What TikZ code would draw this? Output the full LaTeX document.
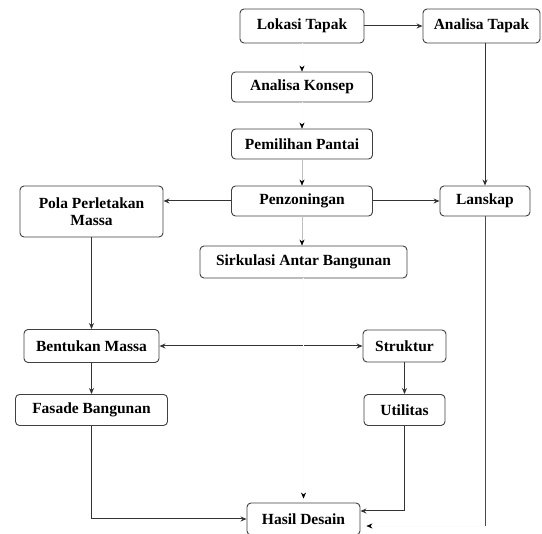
\documentclass[tikz,border=0pt]{standalone}
\usepackage{fontspec}
\setmainfont{Liberation Serif}
\usetikzlibrary{shapes.geometric, arrows.meta}
\tikzstyle{process} = [rectangle, rounded corners=4pt, minimum width=141pt, minimum height=30pt, text centered, draw=black!75, line width=0.9pt, fill=white, inner sep=2pt, font=\fontsize{15.5}{17}\selectfont\bfseries]
\tikzstyle{arrow} = [line width=1pt, draw=black!80, -{Stealth[length=6pt,width=5pt]}]
\tikzstyle{twoway} = [line width=1pt, draw=black!80, {Stealth[length=6pt,width=5pt]}-{Stealth[length=6pt,width=5pt]}]
\tikzstyle{faint} = [line width=0.6pt, draw=black!25, -{Stealth[length=6pt,width=5pt,black]}]
\tikzstyle{ghost} = [line width=0.5pt, draw=black!1, -{Stealth[length=6pt,width=5pt,black]}]
\tikzstyle{line} = [line width=1pt, draw=black!70]

\begin{document}
\begin{tikzpicture}[x=1pt, y=-1pt, node distance=57pt]
\useasboundingbox (0,0) rectangle (542,534);

% Nodes
\node (lokasi) [process, minimum width=124pt, minimum height=34pt] at (302,26) {Lokasi Tapak};
\node (analisatapak) [process, right of=lokasi, xshift=122.5pt, minimum width=117pt, minimum height=34pt] {Analisa Tapak};
\node (konsep) [process, below of=lokasi, yshift=-4pt] {Analisa Konsep};
\node (pemilihan) [process, below of=konsep] {Pemilihan Pantai};
\node (penzon) [process, below of=pemilihan] {Penzoningan};
\node (sirkulasi) [process, below of=penzon, yshift=-4pt, xshift=1.5pt, minimum width=207pt, minimum height=32pt] {Sirkulasi Antar Bangunan};
\node (lanskap) [process, right of=penzon, xshift=126pt, minimum width=90pt] {Lanskap};
\node (pola) [process, left of=penzon, xshift=-153.5pt, yshift=-10.5pt, minimum width=143pt, minimum height=51pt, align=center] {Pola Perletakan\\Massa};
\node (bentukan) [process, below of=pola, yshift=-77.5pt, minimum width=135pt, minimum height=33pt] {Bentukan Massa};
\node (struktur) [process, right of=bentukan, xshift=256pt, minimum width=83pt, minimum height=32pt] {Struktur};
\node (fasade) [process, below of=bentukan, yshift=-7pt, minimum width=152pt, minimum height=31pt] {Fasade Bangunan};
\node (utilitas) [process, below of=struktur, yshift=-7pt, minimum width=81pt, minimum height=31pt] {Utilitas};
\node (hasil) [process, below of=sirkulasi, yshift=-200pt, minimum width=113pt, minimum height=32pt] {Hasil Desain};
\coordinate (lanend) at ([yshift=-7pt]hasil.east -| lanskap);

% Arrows
\draw [arrow] (lokasi) -- (analisatapak);
\draw [ghost] (lokasi) -- (konsep);
\draw [ghost] (konsep) -- (pemilihan);
\draw [faint] (pemilihan) -- (penzon);
\draw [faint] (penzon) -- (penzon |- sirkulasi.north);
\draw [arrow] (penzon) -- (penzon -| pola.east);
\draw [arrow] (penzon) -- (lanskap);
\draw [arrow] (analisatapak.south -| lanskap) -- (lanskap);
\draw [arrow] (pola) -- (bentukan);
\draw [twoway] (bentukan) -- (struktur);
\draw [arrow] (bentukan) -- (fasade);
\draw [arrow] (struktur) -- (utilitas);
\draw [arrow] (fasade) |- (hasil);
\draw [arrow] (utilitas) |- ([yshift=8pt]hasil.east);
\draw [line] (lanskap) -- (lanend);
\draw [ghost, shorten >=6pt] (lanend) -- ([yshift=-7pt]hasil.east);
\draw [ghost, shorten >=4pt] (sirkulasi) -- (sirkulasi |- hasil.north);

\end{tikzpicture}
\end{document}
